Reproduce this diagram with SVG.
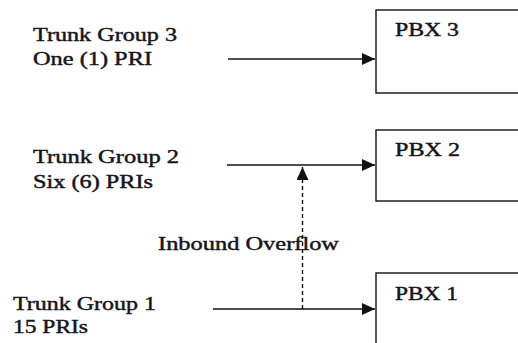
<svg xmlns="http://www.w3.org/2000/svg" width="518" height="343" viewBox="0 0 518 343">
  <style>
    text { font-family: "Liberation Serif", "Times New Roman", serif; font-size: 19.5px; fill: #141420; stroke: #141420; stroke-width: 0.45; }
    .box { fill: #ffffff; stroke: #111; stroke-width: 1.4; }
    .link { fill: none; stroke: #111; stroke-width: 1.6; }
    .dash { stroke-dasharray: 4 3; stroke-width: 1.4; }
  </style>
  <defs>
    <marker id="arrow" viewBox="0 0 13 12" refX="13" refY="6" markerWidth="13" markerHeight="12" markerUnits="userSpaceOnUse" orient="auto">
      <path d="M0,0 L13,6 L0,12 Z" fill="#111"/>
    </marker>
  </defs>
  <rect width="518" height="343" fill="#ffffff"/>

  <!-- PBX boxes run past the right (and bottom) edge of the canvas -->
  <g id="pbx3">
    <rect class="box" x="376" y="10" width="150" height="83"/>
    <text x="395" y="36" textLength="64" lengthAdjust="spacingAndGlyphs">PBX 3</text>
  </g>
  <g id="pbx2">
    <rect class="box" x="376" y="130" width="150" height="71"/>
    <text x="395" y="156" textLength="65" lengthAdjust="spacingAndGlyphs">PBX 2</text>
  </g>
  <g id="pbx1">
    <rect class="box" x="376" y="273" width="150" height="80"/>
    <text x="395" y="300" textLength="63" lengthAdjust="spacingAndGlyphs">PBX 1</text>
  </g>

  <g id="trunk3">
    <text x="33" y="41" textLength="144" lengthAdjust="spacingAndGlyphs">Trunk Group 3</text>
    <text x="33" y="65" textLength="119" lengthAdjust="spacingAndGlyphs">One (1) PRI</text>
  </g>
  <g id="trunk2">
    <text x="33" y="163" textLength="146" lengthAdjust="spacingAndGlyphs">Trunk Group 2</text>
    <text x="33" y="188" textLength="120" lengthAdjust="spacingAndGlyphs">Six (6) PRIs</text>
  </g>
  <g id="trunk1">
    <text x="13" y="310" textLength="143" lengthAdjust="spacingAndGlyphs">Trunk Group 1</text>
    <text x="13" y="333" textLength="75" lengthAdjust="spacingAndGlyphs">15 PRIs</text>
  </g>

  <g id="overflow-label">
    <text x="158" y="250" textLength="181" lengthAdjust="spacingAndGlyphs">Inbound Overflow</text>
  </g>

  <g id="connectors">
    <line class="link" x1="228" y1="59" x2="375" y2="59" marker-end="url(#arrow)"/>
    <line class="link" x1="227" y1="165" x2="375" y2="165" marker-end="url(#arrow)"/>
    <line class="link" x1="213" y1="309" x2="375" y2="309" marker-end="url(#arrow)"/>
    <line class="link dash" x1="302.5" y1="309" x2="302.5" y2="167" marker-end="url(#arrow)"/>
  </g>
</svg>
